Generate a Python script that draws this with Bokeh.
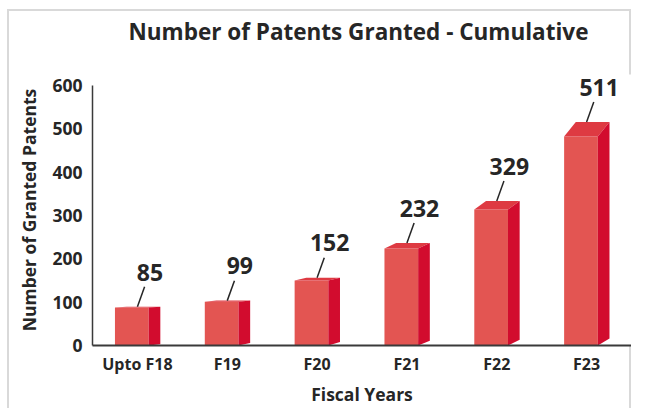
from bokeh.plotting import figure
from bokeh.models import FixedTicker, ColumnDataSource, Title
from bokeh.core.properties import value
from bokeh.embed import file_html
from bokeh.resources import INLINE

categories = ["Upto F18", "F19", "F20", "F21", "F22", "F23"]
patents = [85, 99, 152, 232, 329, 511]
y_ticks = [0, 100, 200, 300, 400, 500, 600]

FONT = "Open Sans"
FRONT = "#E35552"
TOP = "#DE3A42"
SIDE = "#D20C2E"
TXT = "#262626"
GRAY = "#d9d9d9"

# 3D-look geometry (style constants, in axis units)
FL, FR, DX = -0.25, 0.125, 0.13

p = figure(width=631, height=408, x_range=(-0.5, 5.5), y_range=(0, 625),
           output_backend="svg", toolbar_location=None,
           min_border_left=92, min_border_right=0, min_border_top=0, min_border_bottom=60)

xs = list(range(len(categories)))
ft = [0.926 * v + 9 for v in patents]
bt = [v + 4.5 for v in patents]
sb = [3 + 2.6 * i for i in xs]

front = ColumnDataSource(dict(left=[c + FL for c in xs], right=[c + FR for c in xs],
                              top=ft, bottom=[0] * len(xs)))
p.quad(left="left", right="right", top="top", bottom="bottom", source=front,
       fill_color=FRONT, line_color=None)

top_xs = [[c + FL, c + FL + DX, c + FR + DX, c + FR] for c in xs]
top_ys = [[f, b, b, f] for f, b in zip(ft, bt)]
p.patches(top_xs, top_ys, fill_color=TOP, line_color=None)

side_xs = [[c + FR, c + FR + DX, c + FR + DX, c + FR] for c in xs]
side_ys = [[0, s, b, f] for s, b, f in zip(sb, bt, ft)]
p.patches(side_xs, side_ys, fill_color=SIDE, line_color=None)

p.segment(x0=[c + 0.08 for c in xs], y0=[b + 46 for b in bt],
          x1=xs, y1=bt, line_color=TXT, line_width=1.5)

p.text(x=[c + 0.14 for c in xs], y=[b + 80 for b in bt], text=[str(v) for v in patents],
       text_align="center", text_baseline="middle", text_font=value(FONT),
       text_font_style="bold", text_font_size="23px", text_color=TXT)

p.border_fill_color = None
p.styles = {
    "background-image": f"linear-gradient({GRAY},{GRAY}), linear-gradient({GRAY},{GRAY}), linear-gradient({GRAY},{GRAY})",
    "background-position": "7px 9px, 7px 9px, 629px 9px",
    "background-size": "2px 100%, 625px 2px, 2px 100%",
    "background-repeat": "no-repeat",
}

p.title.text = "Number of Patents Granted - Cumulative"
p.title.align = "left"
p.title.offset = 36
p.title.standoff = 27
p.title.text_font = FONT
p.title.text_font_size = "22.5px"
p.title.text_font_style = "bold"
p.title.text_color = TXT

spacer = Title(text=" ", text_font_size="1px", standoff=11)
p.add_layout(spacer, "above")

p.xgrid.visible = False
p.ygrid.visible = False
p.outline_line_color = None

p.xaxis.ticker = FixedTicker(ticks=xs)
p.xaxis.major_label_overrides = {i: c for i, c in enumerate(categories)}
p.yaxis.ticker = FixedTicker(ticks=y_ticks)
p.yaxis.bounds = (0, 600)

for ax in (p.xaxis[0], p.yaxis[0]):
    ax.major_tick_line_color = None
    ax.minor_tick_line_color = None
    ax.major_tick_out = 0
    ax.major_tick_in = 0
    ax.major_label_text_font = FONT
    ax.major_label_text_font_style = "bold"
    ax.major_label_text_font_size = "16px"
    ax.major_label_text_color = TXT
    ax.axis_label_text_font = FONT
    ax.axis_label_text_font_style = "bold"
    ax.axis_label_text_font_size = "17.5px"
    ax.axis_label_text_color = TXT
    ax.axis_line_color = "#3a3a3a"

p.yaxis.major_label_text_font_size = "17.5px"
p.xaxis.axis_line_width = 2
p.yaxis.axis_line_width = 1.5
p.xaxis.axis_label = "Fiscal Years"
p.yaxis.axis_label = "Number of Granted Patents"
p.xaxis.major_label_standoff = 7
p.yaxis.major_label_standoff = 10
p.xaxis.axis_label_standoff = 4
p.yaxis.axis_label_standoff = 8

open("out.html", "w").write(file_html(p, INLINE))
